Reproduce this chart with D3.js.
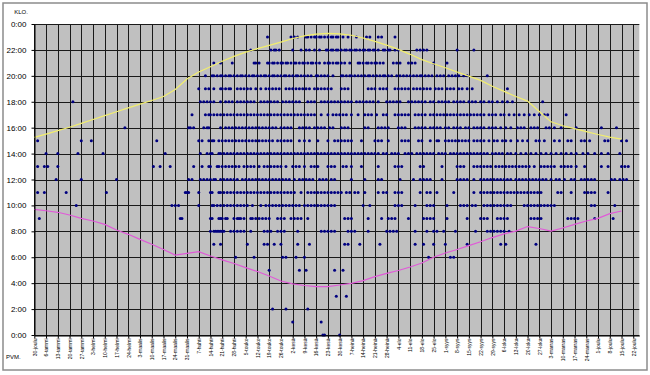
<!DOCTYPE html>
<html><head><meta charset="utf-8">
<script src="https://cdn.jsdelivr.net/npm/d3@7"></script>
<style>body{margin:0;background:#fff;} text{font-family:Arial,"Liberation Sans",sans-serif;}</style>
</head><body>
<svg id="c" width="650" height="375"></svg>
<script>
const xLabels = ["30-joulu","6-tammi","13-tammi","20-tammi","27-tammi","3-helmi","10-helmi","17-helmi","24-helmi","3-maalis","10-maalis","17-maalis","24-maalis","31-maalis","7-huhti","14-huhti","21-huhti","28-huhti","5-touko","12-touko","19-touko","26-touko","2-kesä","9-kesä","16-kesä","23-kesä","30-kesä","7-heinä","14-heinä","21-heinä","28-heinä","4-elo","11-elo","18-elo","25-elo","1-syys","8-syys","15-syys","22-syys","29-syys","6-loka","13-loka","20-loka","27-loka","3-marras","10-marras","17-marras","24-marras","1-joulu","8-joulu","15-joulu","22-joulu"];
const yTickHours = [0,2,4,6,8,10,12,14,16,18,20,22,24];
const yLabels = ["0:00","2:00","4:00","6:00","8:00","10:00","12:00","14:00","16:00","18:00","20:00","22:00","0:00"];

// weekly sunrise / sunset (days from 30-joulu, hours)
const lineDays = [0,7,14,21,28,35,42,49,56,63,70,77,84,91,98,105,112,119,126,133,140,147,154,161,168,175,182,189,196,203,210,217,224,231,238,245,252,259,266,273,280,287,294,301,308,315,322,329,336,343,350];
const sunrise = [9.70,9.59,9.47,9.26,9.0,8.8,8.54,8.1,7.77,7.38,7.0,6.6,6.17,6.3,6.43,6.1,5.8,5.52,5.2,4.9,4.55,4.17,3.94,3.82,3.73,3.74,3.86,3.99,4.2,4.51,4.75,4.98,5.25,5.56,6.0,6.33,6.6,6.9,7.2,7.52,7.8,8.02,8.37,8.22,8.02,8.26,8.54,8.8,9.0,9.37,9.57];
const sunset = [15.25,15.5,15.77,16.03,16.33,16.63,16.93,17.23,17.53,17.82,18.1,18.4,18.95,19.75,20.3,20.7,21.12,21.5,21.83,22.1,22.35,22.6,22.88,23.08,23.22,23.28,23.24,23.13,22.92,22.66,22.37,22.04,21.66,21.25,20.93,20.62,20.3,19.98,19.65,19.2,18.8,18.4,18.05,17.25,16.45,16.15,15.93,15.7,15.47,15.27,15.12];

// observations: day offsets (from 30-joulu) per hour row
const dotsH0 = [172,173,182];
const dotsH1 = [154,171];
const dotsH2 = [142,150,163];
const dotsH3 = [180,186];
const dotsH4 = [];
const dotsH5 = [140,158,162,179,184];
const dotsH6 = [120,131,148,150,156,161,235,248,250];
const dotsH7 = [107,111,127,137,139,143,147,157,164,185,187,194,206,227,232,238,245,258,278,281,299];
const dotsH8 = [105,107,108,109,110,111,112,113,117,119,121,123,125,129,137,139,141,145,147,149,157,171,173,175,177,179,187,189,191,199,210,212,214,216,227,234,238,240,244,251,263,270,272,274,276,278,280,283];
const dotsH9 = [3,87,88,105,106,110,111,112,114,115,119,121,122,123,125,129,130,132,134,136,138,140,145,147,149,153,155,157,159,163,185,187,189,199,207,211,213,215,223,232,234,236,238,246,258,266,268,270,276,278,280,282,296,298,300,302,318,320,322,324,334,345];
const dotsH10 = [25,82,84,86,98,106,107,109,111,113,115,117,119,121,123,125,127,130,135,138,140,142,144,146,148,150,152,154,156,158,161,163,165,167,169,171,173,175,177,179,196,200,215,217,219,227,234,236,238,246,254,256,258,261,263,268,270,272,274,276,278,280,282,284,292,294,296,298,300,302,304,306,308,310,332,334,346];
const dotsH11 = [2,6,19,43,90,91,92,98,105,106,110,111,113,115,117,119,121,123,125,127,129,131,133,135,137,139,141,143,145,147,149,151,153,155,159,163,165,167,169,171,173,175,177,179,181,183,186,188,191,193,197,205,208,210,215,217,219,230,234,236,240,250,262,266,268,270,272,274,276,278,280,282,284,286,288,290,292,294,296,298,300,302,312,314,320,328,330,332,334,342];
const dotsH12 = [13,28,49,92,94,99,101,103,105,107,108,111,113,115,117,119,121,124,126,128,130,132,134,136,138,140,142,144,146,148,150,152,155,158,160,162,164,166,170,172,174,177,179,189,197,205,207,218,226,230,232,234,236,243,252,254,256,258,262,266,268,270,272,274,276,278,280,282,284,287,289,291,293,295,297,299,301,303,305,308,311,313,316,320,322,326,328,330,332,334,344,346,349,351,353];
const dotsH13 = [2,6,8,14,71,75,81,95,100,104,105,109,110,112,114,116,118,120,122,125,127,129,131,134,137,139,141,143,145,147,150,154,156,158,161,165,167,169,175,177,179,184,186,189,195,205,215,217,219,230,232,243,252,254,256,262,264,266,268,270,272,275,277,279,281,283,285,287,289,291,293,295,298,302,304,306,308,310,314,316,318,320,323,328,338,342,350,352,354];
const dotsH14 = [7,14,26,41,78,99,103,105,106,110,111,113,115,117,119,121,123,125,127,129,131,133,135,137,139,141,143,145,147,149,151,153,155,157,159,161,163,165,167,169,171,173,175,177,179,181,183,185,187,189,191,193,195,197,199,201,203,205,208,210,213,215,217,221,223,225,228,230,232,234,236,238,241,243,245,248,250,252,254,256,258,260,262,264,266,268,270,273,275,277,279,282,284,287,290,293,296,299,302,305,308,311,314,317,320,323,327,330,334,338,342,349];
const dotsH15 = [2,28,34,73,98,100,104,106,107,110,112,114,116,118,120,122,124,126,128,130,132,134,136,138,140,142,145,147,149,151,153,158,161,164,169,175,179,181,183,185,187,189,195,203,205,207,211,219,221,223,229,231,236,240,241,245,247,249,251,253,255,257,259,262,264,266,268,271,274,276,279,281,284,288,291,294,299,301,304,310,313,318,320,326,328,331,340,342,350,353];
const dotsH16 = [54,92,93,95,101,103,104,111,114,116,118,120,122,124,126,128,130,132,134,136,138,140,142,144,147,149,151,153,158,160,162,164,167,169,171,173,176,178,183,185,187,197,199,205,207,209,211,217,219,221,227,229,231,233,236,238,240,242,245,247,250,252,254,257,259,262,264,266,268,271,273,275,278,281,284,288,290,292,296,298,300,305,307,310,314,323,338,347];
const dotsH17 = [94,102,104,105,107,109,111,113,115,117,119,121,123,125,127,129,131,133,135,137,139,141,143,145,147,149,151,153,155,157,159,161,163,165,167,171,175,178,180,182,184,186,189,193,197,199,201,204,208,210,215,217,219,221,223,227,229,231,233,236,238,240,242,244,246,248,250,252,254,256,258,260,262,264,266,268,271,273,275,278,280,283,286,289,292,295,298,301,304,306,317];
const dotsH18 = [23,99,101,103,105,107,111,114,116,118,121,123,125,127,129,131,135,137,139,141,143,145,148,150,152,154,156,158,163,165,167,171,173,175,177,179,181,183,185,187,189,192,194,196,198,200,202,205,210,212,214,216,218,223,225,227,229,231,233,236,238,241,243,245,247,250,252,254,256,259,261,263,266,268,271,273,276,279,282,285,303];
const dotsH19 = [98,102,104,107,111,112,114,116,117,121,123,125,127,129,132,135,138,140,142,144,146,150,152,154,156,158,160,162,164,167,169,171,173,175,177,183,185,187,199,201,203,206,208,210,215,217,219,221,223,226,228,230,232,234,236,239,241,243,246,248,250,253,255,258,261,282];
const dotsH20 = [102,106,107,109,111,112,114,116,117,119,121,123,124,126,128,130,131,133,135,137,138,140,142,143,145,147,149,150,152,154,156,157,159,161,163,165,168,169,171,173,175,178,183,184,186,188,189,191,193,195,197,199,200,202,204,206,208,209,211,213,216,218,220,222,224,226,228,230,231,233,235,237,240,242,244,247,249,251,253,256,258,270];
const dotsH21 = [107,111,118,131,132,134,139,140,142,143,145,147,148,150,151,153,155,156,158,160,161,163,165,166,168,170,173,175,176,178,180,181,183,185,188,193,194,196,198,199,201,203,204,206,208,214,216,218,223,225,227,238,246];
const dotsH22 = [129,141,143,144,146,154,159,162,164,167,170,174,175,177,178,180,181,183,185,186,188,189,191,192,194,196,197,199,200,202,203,205,208,209,211,212,215,217,228,230,232,234,252,262];
const dotsH23 = [139,153,155,157,162,163,165,167,168,170,171,173,175,177,178,180,181,184,187,192,198,200,205,207,215];

const rows = [dotsH0,dotsH1,dotsH2,dotsH3,dotsH4,dotsH5,dotsH6,dotsH7,dotsH8,dotsH9,dotsH10,dotsH11,dotsH12,dotsH13,dotsH14,dotsH15,dotsH16,dotsH17,dotsH18,dotsH19,dotsH20,dotsH21,dotsH22,dotsH23];
const points = [];
rows.forEach((arr,h)=>arr.forEach(d=>points.push({day:d,h:h})));

const svg = d3.select("#c");
const L=34.3, R=639.3, T=24, B=335;
const x = d3.scaleLinear().domain([0,360.6]).range([L,R]);
const y = d3.scaleLinear().domain([0,24]).range([B,T]);
const px = v => Math.round(v)+0.5;

svg.append("rect").attr("x",3).attr("y",3).attr("width",644).attr("height",367)
  .attr("fill","#fff").attr("stroke","#8c8c8c").attr("stroke-width",1.5);
svg.append("rect").attr("x",L).attr("y",T).attr("width",R-L).attr("height",B-T).attr("fill","#c0c0c0");

const xTickDays = xLabels.map((d,i)=>i*7);
const grid = svg.append("g");
grid.selectAll("line.v").data(xTickDays).join("line").attr("class","v")
  .attr("x1",d=>px(x(d))).attr("x2",d=>px(x(d))).attr("y1",T).attr("y2",B)
  .attr("stroke","#1a1a1a").attr("stroke-width",1);
grid.selectAll("line.h").data(yTickHours).join("line").attr("class","h")
  .attr("x1",L).attr("x2",R).attr("y1",d=>px(y(d))).attr("y2",d=>px(y(d)))
  .attr("stroke","#1a1a1a").attr("stroke-width",1);

svg.append("g").selectAll("circle").data(points).join("circle")
  .attr("cx",d=>x(d.day)).attr("cy",d=>y(d.h)).attr("r",1.5).attr("fill","#000080");

const lineGen = (vals)=>d3.line().x((d,i)=>x(lineDays[i])).y(d=>y(d))(vals);
svg.append("path").attr("d",lineGen(sunset)).attr("fill","none").attr("stroke","#f2ee6e").attr("stroke-width",1.2);
svg.append("path").attr("d",lineGen(sunrise)).attr("fill","none").attr("stroke","#e05ad8").attr("stroke-width",1.2);

const yAxis = svg.append("g").attr("transform",`translate(${px(L)},0)`)
  .call(d3.axisLeft(y).tickValues(yTickHours).tickFormat((d,i)=>yLabels[i]).tickSize(3).tickSizeOuter(0).tickPadding(5));
yAxis.selectAll("text").attr("font-size",8).attr("fill","#000").style("font-family","Arial, 'Liberation Sans', sans-serif");
yAxis.selectAll("line,path").attr("stroke","#000");

const xAxis = svg.append("g").attr("transform",`translate(0,${px(B)})`)
  .call(d3.axisBottom(x).tickValues(xTickDays).tickFormat((d,i)=>xLabels[i]).tickSize(3).tickSizeOuter(0));
xAxis.selectAll("text").attr("font-size",5).attr("fill","#000")
  .attr("transform","rotate(-90)").attr("x",-3).attr("y",0).attr("dy","0.35em")
  .attr("text-anchor","end").style("font-family","Arial, 'Liberation Sans', sans-serif");
xAxis.selectAll("line,path").attr("stroke","#000");

svg.append("text").attr("x",21).attr("y",14).attr("text-anchor","middle").attr("font-size",6).text("KLO.");
svg.append("text").attr("x",6).attr("y",359).attr("font-size",6).text("PVM.");
</script>
</body></html>
